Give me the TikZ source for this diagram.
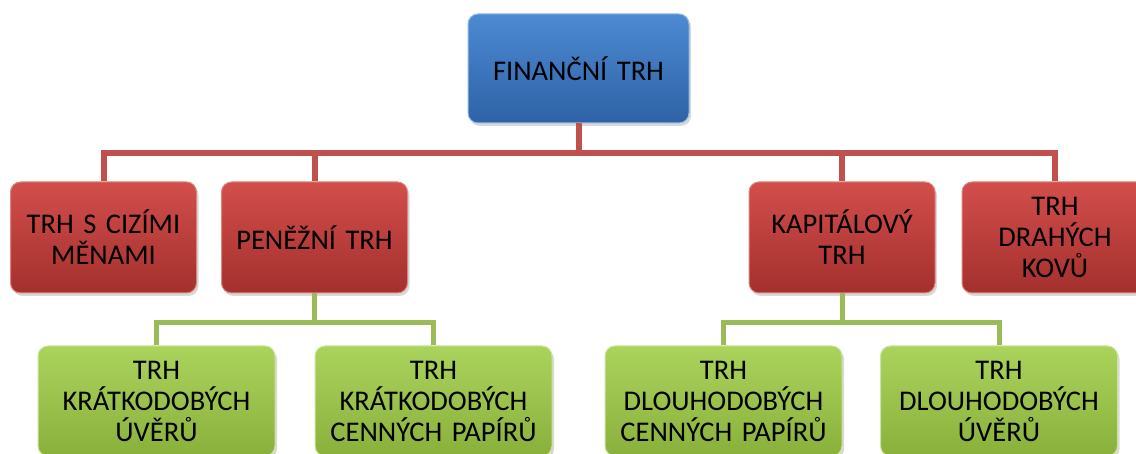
\documentclass[tikz,border=0pt]{standalone}
\usepackage{fontspec}
\setmainfont{Carlito}
\usetikzlibrary{shadows}
\definecolor{bluetop}{HTML}{4C8AD2}
\definecolor{bluebot}{HTML}{2E62A6}
\definecolor{redtop}{HTML}{D24E4B}
\definecolor{redbot}{HTML}{A3302D}
\definecolor{greentop}{HTML}{AAD35C}
\definecolor{greenbot}{HTML}{8AB03C}
\definecolor{redline}{HTML}{C0504D}
\definecolor{greenline}{HTML}{9BBB59}
\begin{document}
\begin{tikzpicture}[x=1pt,y=-1pt,
  box/.style={rounded corners=10pt, inner sep=0pt, align=center,
    font=\fontsize{28.5}{31}\selectfont, minimum height=111pt,
    drop shadow={opacity=0.3, shadow xshift=2pt, shadow yshift=-3pt}},
  finbox/.style={box, text width=221pt, minimum height=109pt,
    top color=bluetop, bottom color=bluebot, draw=bluetop!60!white, line width=1pt},
  redbox/.style={box, text width=186pt,
    top color=redtop, bottom color=redbot, draw=redtop!70!white, line width=1pt},
  greenbox/.style={box, text width=237pt, minimum height=110pt,
    top color=greentop, bottom color=greenbot, draw=greentop!60!white, line width=1pt},
  redlink/.style={draw=redline, line width=6pt},
  greenlink/.style={draw=greenline, line width=5pt}]
\useasboundingbox (0,0) rectangle (1136,454);
\clip (0,0) rectangle (1136,454);
% top level
\node[finbox] (fin) at (578.5,68.5) {FINANČNÍ TRH};
% second level
\node[redbox] (cizi) at (103.5,237.5) {TRH S CIZÍMI\\MĚNAMI};
\node[redbox] (penez) at (314.5,237.5) {PENĚŽNÍ TRH};
\node[redbox] (kapit) at (842,237.5) {KAPITÁLOVÝ\\TRH};
\node[redbox] (kovy) at (1055,237.5) {TRH\\DRAHÝCH\\KOVŮ};
% third level
\node[greenbox] (kruver) at (156.5,401) {TRH\\KRÁTKODOBÝCH\\ÚVĚRŮ};
\node[greenbox] (krpap) at (433.5,401) {TRH\\KRÁTKODOBÝCH\\CENNÝCH PAPÍRŮ};
\node[greenbox] (dlpap) at (723.5,401) {TRH\\DLOUHODOBÝCH\\CENNÝCH PAPÍRŮ};
\node[greenbox] (dluver) at (999,401) {TRH\\DLOUHODOBÝCH\\ÚVĚRŮ};
% connectors
\draw[redlink] (fin.south) -- ++(0,30) coordinate (bus);
\foreach \n in {cizi,penez,kapit,kovy}
  \draw[redlink] (bus) -| (\n.north);
\draw[greenlink] (penez.south) -- ++(0,29) coordinate (lbus);
\foreach \n in {kruver,krpap}
  \draw[greenlink] (lbus) -| (\n.north);
\draw[greenlink] (kapit.south) -- ++(0,29) coordinate (rbus);
\foreach \n in {dlpap,dluver}
  \draw[greenlink] (rbus) -| (\n.north);
\end{tikzpicture}
\end{document}
